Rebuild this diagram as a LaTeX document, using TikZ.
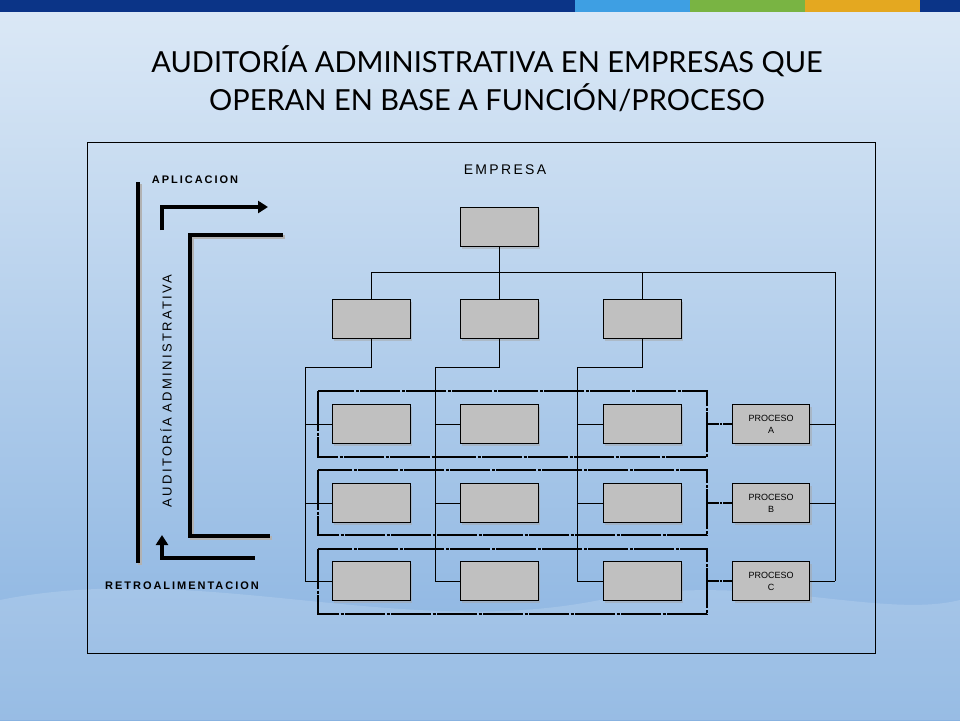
\documentclass[tikz,border=0pt]{standalone}
\usepackage{fontspec}
\setmainfont{Lato}
\newfontfamily\diagfont{Liberation Sans}
\newfontfamily\wideFont[LetterSpace=18]{Liberation Sans}
\usetikzlibrary{positioning,arrows.meta,calc,shadows}
\definecolor{topblue}{HTML}{DCE9F6}
\definecolor{lowblue}{HTML}{86B1E0}
\definecolor{barblue}{HTML}{0B3487}
\definecolor{barsky}{HTML}{3E9FE3}
\definecolor{bargreen}{HTML}{79B443}
\definecolor{bargold}{HTML}{E4A820}
\definecolor{boxgray}{HTML}{C0C0C0}
\tikzset{
    unit/.style = {draw, rectangle, fill=boxgray, line width=0.6pt,
        minimum width=78pt, minimum height=39pt,
        drop shadow={shadow xshift=2pt, shadow yshift=-2pt, fill=gray!70}},
    proc/.style = {unit, minimum width=77pt, align=center,
        font=\diagfont\fontsize{9}{12}\selectfont},
    group/.style = {draw, line width=1.6pt, dash pattern=on 40pt off 1.5pt on 3pt off 1.5pt},
    link/.style = {draw, line width=0.6pt},
    fat/.style = {line width=3.5pt},
    sidetext/.style = {font=\wideFont\bfseries\fontsize{11}{12}\selectfont},
}
\begin{document}
\begin{tikzpicture}[x=1pt,y=-1pt]
	% background
	\shade[top color=topblue, bottom color=lowblue] (0,0) rectangle (960,720);
	\fill[white, opacity=0.15] (0,600) .. controls (200,560) and (400,640) .. (600,600) .. controls (750,570) and (880,620) .. (960,600) -- (960,720) -- (0,720) -- cycle;
	\useasboundingbox (0,0) rectangle (960,720);
	% top bar
	\fill[barblue] (0,0) rectangle (575,12);
	\fill[barsky] (575,0) rectangle (690,12);
	\fill[bargreen] (690,0) rectangle (805,12);
	\fill[bargold] (805,0) rectangle (920,12);
	\fill[barblue] (920,0) rectangle (960,12);
	
	% title
	\node[font=\fontsize{29}{38}\selectfont, align=center] (title) at (487,79)
	    {AUDITORÍA ADMINISTRATIVA EN EMPRESAS QUE\\OPERAN EN BASE A FUNCIÓN/PROCESO};
	
	% frame
	\draw[line width=0.6pt] (87,142) rectangle (875,653);
	\node[font=\diagfont\fontsize{14}{16}\selectfont] (empresa) at (505,170) {E\,M\,P\,R\,E\,S\,A};
	
	% levels
	\node[unit] (top) at (499,227) {};
	\node[unit] (f1) at (371,319) {};
	\node[unit] (f2) at (499,319) {};
	\node[unit] (f3) at (642,319) {};
	
	% dashed groups
	\draw[group] (318,391) rectangle (707,457);
	\draw[group] (318,470) rectangle (707,535);
	\draw[group] (318,549) rectangle (707,614);
	
	% grid
	\foreach \r/\y/\p in {a/424/A, b/503/B, c/581/C} {
	    \node[unit] (\r1) at (371,\y) {};
	    \node[unit] (\r2) at (499,\y) {};
	    \node[unit] (\r3) at (642,\y) {};
	    \node[proc] (p\r) at (771,\y) {PROCESO\\\p};
	    \coordinate (e\r) at (707,\y);
	    \coordinate (q\r) at (835,\y);
	    \draw[line width=1.3pt, dash pattern=on 12pt off 1pt on 2pt off 1pt] (e\r) -- (p\r);
	    \draw[link] (p\r) -- (q\r);
	    \draw[link] (\r1.west) -- ++(-26,0);
	    \draw[link] (\r2.west) -- ++(-25,0);
	    \draw[link] (\r3.west) -- ++(-26,0);
	}
	
	%%lines
	\coordinate (bus) at (499,272);
	\draw[link] (top) -- (bus);
	\draw[link] (f1 |- bus) -- (qa |- bus) -- (qc);
	\draw[link] (f1 |- bus) -- (f1);
	\draw[link] (f3 |- bus) -- (f3);
	\draw[link] (f2) -- (f2 |- bus);
	\draw[link] (f1.south) -- ++(0,28) -| (305,581) -- (c1.west);
	\draw[link] (f2.south) -- ++(0,28) -| (435,581) -- (c2.west);
	\draw[link] (f3.south) -- ++(0,28) -| (577,581) -- (c3.west);
	
	% audit side
	\draw[fat, gray!60] (140,184) -- (140,565);
	\draw[fat] (138,182) -- (138,563);
	\node[sidetext] (apl) at (195,180) {APLICACION};
	\node[sidetext] (retro) at (182,586) {RETROALIMENTACION};
	\node[sidetext, font=\wideFont\fontsize{13}{14}\selectfont, rotate=90] (audit) at (166,391) {AUDITORÍA ADMINISTRATIVA};
	\coordinate (aplA) at (162,230);
	\coordinate (aplB) at (268,207);
	\draw[fat, -{Triangle[length=10pt,width=12pt]}] (aplA) |- (aplB);
	\coordinate (brA) at (283,235);
	\coordinate (brB) at (270,536);
	\draw[fat, gray!60] ($(brA)+(2,2)$) -| (192,538) -- ($(brB)+(2,2)$);
	\draw[fat] (brA) -| (190,536) -- (brB);
	\coordinate (retA) at (255,558);
	\coordinate (retB) at (162,535);
	\draw[fat, -{Triangle[length=10pt,width=12pt]}] (retA) -| (retB);
\end{tikzpicture}
\end{document}
